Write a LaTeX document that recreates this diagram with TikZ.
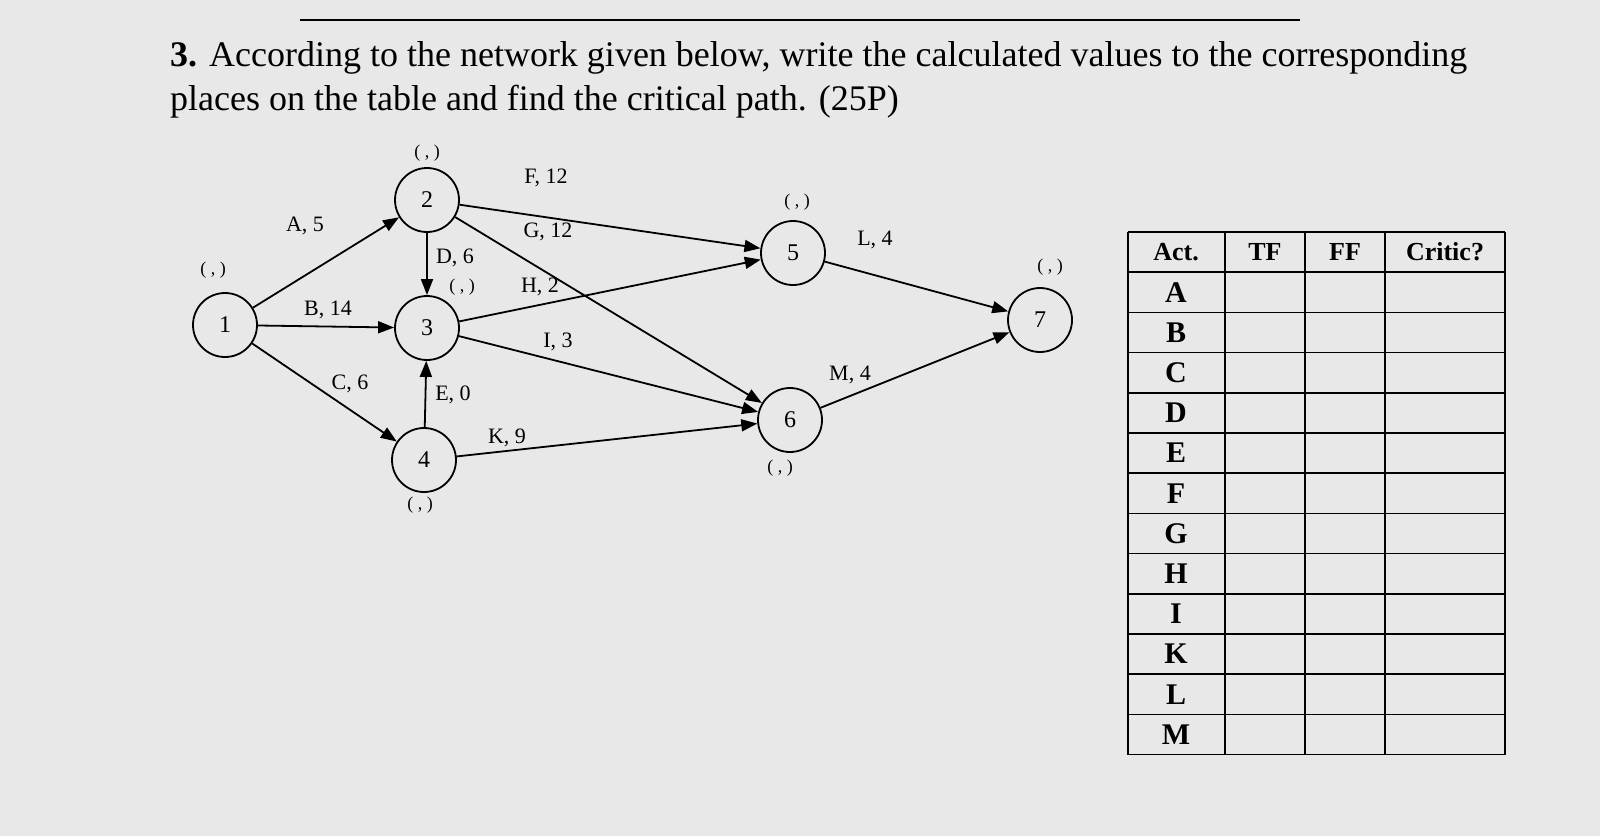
\documentclass[tikz,border=0pt]{standalone}
\usepackage{fontspec}
\setmainfont{Liberation Serif}
\usetikzlibrary{arrows.meta}
\begin{document}
\begin{tikzpicture}[x=0.5pt,y=-0.5pt,
  ev/.style={circle,draw,line width=0.9pt,minimum size=32pt,inner sep=0pt,font=\fontsize{12}{14}\selectfont},
  arr/.style={-{Triangle[length=8pt,width=6pt]},line width=0.9pt},
  lab/.style={font=\fontsize{11}{13}\selectfont},
  pr/.style={font=\fontsize{9}{11}\selectfont},
  cell/.style={font=\fontsize{13}{15}\selectfont\bfseries}]
\fill[gray!18] (0,0) rectangle (1600,836);
\useasboundingbox (0,0) rectangle (1600,836);
\draw[line width=0.8pt] (300,20) -- (1300,20);
\node[anchor=west,font=\fontsize{18}{22}\selectfont] (t1) at (163,58) {\textbf{3.} According to the network given below, write the calculated values to the corresponding};
\node[anchor=west,font=\fontsize{18}{22}\selectfont] (t2) at (163,102) {places on the table and find the critical path. (25P)};
\node[ev] (n1) at (225,325) {1};
\node[ev] (n2) at (427,200) {2};
\node[ev] (n3) at (427,328) {3};
\node[ev] (n4) at (424,460) {4};
\node[ev] (n5) at (793,253) {5};
\node[ev] (n6) at (790,420) {6};
\node[ev] (n7) at (1040,320) {7};
\draw[arr] (n1) -- (n2);
\draw[arr] (n1) -- (n3);
\draw[arr] (n1) -- (n4);
\draw[arr] (n2) -- (n3);
\draw[arr] (n4) -- (n3);
\draw[arr] (n2) -- (n5);
\draw[arr] (n2) -- (n6);
\draw[arr] (n3) -- (n5);
\draw[arr] (n3) -- (n6);
\draw[arr] (n4) -- (n6);
\draw[arr] (n5) -- (n7);
\draw[arr] (n6) -- (n7);
\node[lab] (la) at (305,226) {A, 5};
\node[lab] (lb) at (328,310) {B, 14};
\node[lab] (lc) at (350,384) {C, 6};
\node[lab] (ld) at (455,258) {D, 6};
\node[lab] (le) at (453,395) {E, 0};
\node[lab] (lf) at (546,178) {F, 12};
\node[lab] (lg) at (548,232) {G, 12};
\node[lab] (lh) at (540,287) {H, 2};
\node[lab] (li) at (558,342) {I, 3};
\node[lab] (lk) at (507,438) {K, 9};
\node[lab] (ll) at (875,240) {L, 4};
\node[lab] (lm) at (850,375) {M, 4};
\node[pr] (p2) at (427,153) {( , )};
\node[pr] (p1) at (213,270) {( , )};
\node[pr] (p3) at (462,287) {( , )};
\node[pr] (p5) at (797,202) {( , )};
\node[pr] (p7) at (1050,267) {( , )};
\node[pr] (p6) at (780,468) {( , )};
\node[pr] (p4) at (420,505) {( , )};
% table
\foreach \i in {0,...,13} \draw[line width=0.8pt] (1128,{232+40.2*\i}) -- (1505,{232+40.2*\i});
\foreach \x in {1128,1225,1305,1385,1505} \draw[line width=0.8pt] (\x,232) -- (\x,755);
\node[cell] (h1) at (1176,252) {Act.};
\node[cell] (h2) at (1265,252) {TF};
\node[cell] (h3) at (1345,252) {FF};
\node[cell] (h4) at (1445,252) {Critic?};
\foreach \l [count=\i] in {A,B,C,D,E,F,G,H,I,K,L,M}
  \node[cell,font=\fontsize{15}{17}\selectfont\bfseries] (r\i) at (1176,{252+40.2*\i}) {\l};
\end{tikzpicture}
\end{document}
